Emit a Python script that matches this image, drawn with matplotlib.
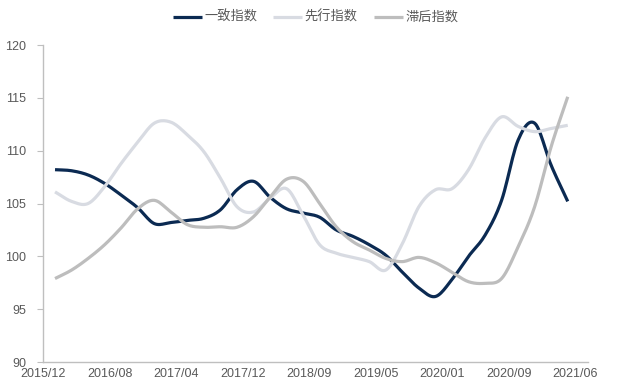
import numpy as np
import matplotlib
matplotlib.use("Agg")
import matplotlib.pyplot as plt

plt.rcParams['font.family'] = ['Liberation Sans', 'Noto Sans CJK SC', 'DejaVu Sans']

# данные (шаг - две категории)
idx = list(range(0, 63, 2))
coincident = [108.2, 108.1, 107.7, 106.9, 105.8, 104.6, 103.1, 103.2, 103.4, 103.6,
              104.4, 106.3, 107.1, 105.6, 104.5, 104.1, 103.7, 102.5, 101.9, 101.1,
              100.1, 98.5, 97.0, 96.2, 97.8, 100.0, 102.0, 105.3, 111.0, 112.6,
              108.6, 105.2]
leading = [106.1, 105.2, 105.0, 106.6, 108.8, 110.8, 112.6, 112.7, 111.5, 109.9,
           107.4, 104.7, 104.2, 105.5, 106.4, 103.9, 101.1, 100.3, 99.9, 99.5,
           98.7, 101.2, 104.7, 106.3, 106.4, 108.2, 111.2, 113.2, 112.3, 111.8,
           112.1, 112.4]
lagging = [97.9, 98.7, 99.8, 101.1, 102.7, 104.5, 105.3, 104.2, 103.0, 102.75,
           102.8, 102.75, 103.75, 105.6, 107.3, 107.1, 105.0, 102.8, 101.4, 100.6,
           99.8, 99.5, 99.9, 99.4, 98.5, 97.6, 97.45, 97.9, 100.9, 104.7,
           110.4, 115.1]
names = ['一致指数', '先行指数', '滞后指数']
xlabels = ['2015/12', '2016/08', '2017/04', '2017/12', '2018/09',
           '2019/05', '2020/01', '2020/09', '2021/06']


def smooth(x, y, n=12):
    # сглаживание как в Excel (Catmull-Rom)
    x = np.asarray(x, float)
    y = np.asarray(y, float)
    px = np.concatenate([[2 * x[0] - x[1]], x, [2 * x[-1] - x[-2]]])
    py = np.concatenate([[2 * y[0] - y[1]], y, [2 * y[-1] - y[-2]]])
    t = np.linspace(0, 1, n, endpoint=False)
    xs, ys = [], []
    for i in range(1, len(px) - 2):
        for p, out in ((px, xs), (py, ys)):
            p0, p1, p2, p3 = p[i - 1], p[i], p[i + 1], p[i + 2]
            out.extend(0.5 * (2 * p1 + (-p0 + p2) * t + (2 * p0 - 5 * p1 + 4 * p2 - p3) * t ** 2
                              + (-p0 + 3 * p1 - 3 * p2 + p3) * t ** 3))
    xs.append(x[-1])
    ys.append(y[-1])
    return xs, ys


fig = plt.figure(figsize=(6.2, 3.92), dpi=100)
ax = fig.add_axes([0.0694, 0.0765, 0.8790, 0.8087])

colors = ['#0b2a52', '#d8dbe2', '#bdbdbd']
for vals, name, c in zip([coincident, leading, lagging], names, colors):
    sx, sy = smooth(idx, vals)
    ax.plot(sx, sy, color=c, lw=2.3, label=name, solid_capstyle='butt')

ax.set_ylim(90, 120)
ax.set_yticks(range(90, 121, 5))
ax.set_xlim(-1.45, 64.45)
ax.set_xticks(np.linspace(-1.45, 62.9, 9))
ax.set_xticklabels(xlabels)

for s in ['top', 'right']:
    ax.spines[s].set_visible(False)
for s in ['left', 'bottom']:
    ax.spines[s].set_color('#bfbfbf')
    ax.spines[s].set_linewidth(1)
ax.tick_params(axis='y', length=4, color='#bfbfbf', labelsize=9, labelcolor='#595959', pad=8)
ax.tick_params(axis='x', length=0, labelsize=9, labelcolor='#595959', pad=4)

ax.legend(loc='upper center', bbox_to_anchor=(0.5, 1.145), ncol=3, frameon=False,
          fontsize=9.5, labelcolor='#595959', handlelength=2.2, handletextpad=0.2,
          columnspacing=1.2)

fig.savefig('out.png', dpi=100)
